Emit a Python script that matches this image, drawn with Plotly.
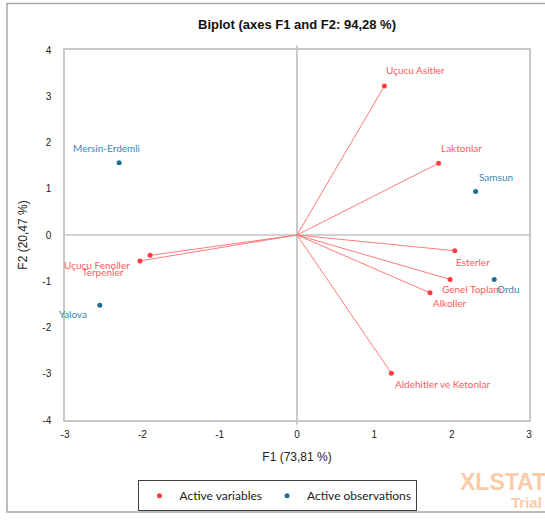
import plotly.graph_objects as go

# Active variables (loadings)
var_names = ["Uçucu Asitler", "Laktonlar", "Esterler", "Genel Toplam", "Alkoller",
             "Aldehitler ve Ketonlar", "Uçucu Fenoller", "Terpenler"]
var_f1 = [1.13, 1.83, 2.04, 1.98, 1.72, 1.22, -1.90, -2.03]
var_f2 = [3.22, 1.55, -0.34, -0.96, -1.25, -2.99, -0.44, -0.56]

# Active observations
obs_names = ["Mersin-Erdemli", "Samsun", "Ordu", "Yalova"]
obs_f1 = [-2.30, 2.31, 2.55, -2.55]
obs_f2 = [1.56, 0.94, -0.96, -1.52]

x_ticks = [-3, -2, -1, 0, 1, 2, 3]
x_tick_text = ["-3", "-2", "-1", "0", "1", "2", "3"]
y_ticks = [-4, -3, -2, -1, 0, 1, 2, 3, 4]
y_tick_text = ["-4", "-3", "-2", "-1", "0", "1", "2", "3", "4"]

# label offsets in pixels (dx right, dy down) - style only
var_off = [(31, -16), (23, -15), (18, 11), (22, 10), (20, 10), (51, 11), (-53, 10), (-37, 11)]
obs_off = [(-13, -15), (20, -15), (14, 10), (-27, 9)]

RED = "#FF3B3B"
RED_LINE = "#FF7A7A"
RED_TXT = "#FF5A5A"
BLUE = "#1F6E96"
BLUE_TXT = "#3C86AE"
LBL_FONT = "Lato"

fig = go.Figure()

# vectors from origin
lx, ly = [], []
for a, b in zip(var_f1, var_f2):
    lx += [0, a, None]
    ly += [0, b, None]
fig.add_trace(go.Scatter(x=lx, y=ly, mode="lines", line=dict(color=RED_LINE, width=1),
                         showlegend=False, hoverinfo="skip"))

fig.add_trace(go.Scatter(x=var_f1, y=var_f2, mode="markers", name="Active variables",
                         marker=dict(color=RED, size=5), text=var_names))
fig.add_trace(go.Scatter(x=obs_f1, y=obs_f2, mode="markers", name="Active observations",
                         marker=dict(color=BLUE, size=5), text=obs_names))

ann = []
for n, a, b, (dx, dy) in zip(var_names, var_f1, var_f2, var_off):
    ann.append(dict(x=a, y=b, text=n, showarrow=False, xanchor="center", yanchor="middle",
                    xshift=dx, yshift=-dy, font=dict(family=LBL_FONT, size=10, color=RED_TXT)))
for n, a, b, (dx, dy) in zip(obs_names, obs_f1, obs_f2, obs_off):
    ann.append(dict(x=a, y=b, text=n, showarrow=False, xanchor="center", yanchor="middle",
                    xshift=dx, yshift=-dy, font=dict(family=LBL_FONT, size=10, color=BLUE_TXT)))

# watermark
ann.append(dict(xref="paper", yref="paper", x=0.846, y=-0.168, text="<b>XLSTAT</b>",
                showarrow=False, xanchor="left", yanchor="middle",
                font=dict(family="Liberation Sans", size=23, color="#FBCBA8")))
ann.append(dict(xref="paper", yref="paper", x=1.033, y=-0.222, text="<b>Trial</b>",
                showarrow=False, xanchor="right", yanchor="middle",
                font=dict(family="Liberation Sans", size=15, color="#FBCBA8")))

shapes = [
    # outer chart frame
    dict(type="rect", xref="paper", yref="paper", x0=-0.125, x1=1.2, y0=-0.2485, y1=1.1255,
         line=dict(color="#A6A6A6", width=1.5), layer="below"),
    # zero lines
    dict(type="line", xref="x", yref="y", x0=-3, x1=3, y0=0, y1=0,
         line=dict(color="#A6A6A6", width=1.2), layer="below"),
    dict(type="line", xref="x", yref="paper", x0=0, x1=0, y0=-0.012, y1=1.012,
         line=dict(color="#A6A6A6", width=1.2), layer="below"),
]

fig.update_layout(
    width=545, height=523,
    margin=dict(l=65, r=16, t=50, b=96),
    paper_bgcolor="white", plot_bgcolor="white",
    title=dict(text="<b>Biplot (axes F1 and F2: 94,28 %)</b>", x=0.5, xref="paper",
               y=0.953, yref="container", xanchor="center", yanchor="middle",
               font=dict(family="Liberation Sans", size=13, color="#111111")),
    xaxis=dict(range=[-3, 3], tickvals=x_ticks, ticktext=x_tick_text, showgrid=False, zeroline=False,
               showline=True, mirror=True, linecolor="#C8C8C8", linewidth=1.5,
               ticks="", ticklabelstandoff=4,
               tickfont=dict(family="Liberation Sans", size=10, color="#222222"),
               title=dict(text="F1 (73,81 %)", standoff=14,
                          font=dict(family="Liberation Sans", size=12, color="#222222"))),
    yaxis=dict(range=[-4, 4], tickvals=y_ticks, ticktext=y_tick_text, showgrid=False, zeroline=False,
               showline=True, mirror=True, linecolor="#C8C8C8", linewidth=1.5,
               ticks="", ticklabelstandoff=10,
               tickfont=dict(family="Liberation Sans", size=10, color="#222222"),
               title=dict(text="F2 (20,47 %)", standoff=12,
                          font=dict(family="Liberation Sans", size=12, color="#222222"))),
    legend=dict(orientation="h", x=0.459, xanchor="center", y=-0.163, yanchor="top",
                bordercolor="#404040", borderwidth=1, bgcolor="white",
                font=dict(family=LBL_FONT, size=12, color="#222222"),
                itemwidth=30),
    annotations=ann, shapes=shapes,
)

fig.write_html("out.html", config={"displayModeBar": False},
               post_script="document.body.style.margin='0';")
